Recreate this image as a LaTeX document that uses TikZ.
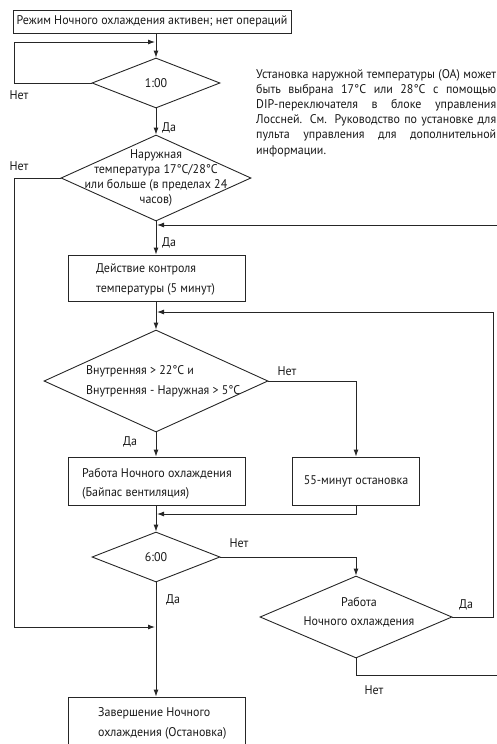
\documentclass[tikz,border=0pt]{standalone}
\usepackage{fontspec}
\setmainfont[FakeStretch=0.95]{PT Sans}
\usetikzlibrary{shapes.geometric,arrows.meta}
\newcommand{\lefttwo}[2]{\begin{tabular}{@{}l@{}}#1\\#2\end{tabular}}
\begin{document}
\begin{tikzpicture}[x=1pt,y=-1pt,
  every node/.style={font=\fontsize{12.6}{15.2}\selectfont, inner sep=0pt, text=black!90},
  ln/.style={line width=0.9pt, draw=black!85},
  arr/.style={ln, -{Latex[length=7pt,width=5pt]}},
  boxn/.style={draw=black!85, line width=0.9pt, rectangle},
  dia/.style={draw=black!85, line width=0.9pt, diamond, inner sep=0pt},
  wide/.style={font=\fontsize{12.6}{19.5}\selectfont},
  lt/.style={wide, anchor=west}]
\useasboundingbox (0,0) rectangle (497,744);

% nodes
\node[boxn, minimum width=278pt, minimum height=23pt] (top) at (152,21.5) {Режим Ночного охлаждения активен; нет операций};
\node[dia, minimum width=128pt, minimum height=50pt] (d1) at (156,83) {1:00};
\node[dia, minimum width=190pt, minimum height=86pt] (d2) at (156,178) {};
\node[align=center] (d2t) at (156,178) {Наружная\\температура 17°C/28°C\\или больше (в пределах 24\\часов)};
\node[boxn, minimum width=177pt, minimum height=46pt] (b2) at (156.5,278) {};
\node[lt] (b2t) at (96,278.5) {\lefttwo{Действие контроля}{температуры (5 минут)}};
\node[dia, minimum width=224pt, minimum height=102pt] (d3) at (156,381) {};
\node[lt] (d3t) at (86,380.5) {\lefttwo{Внутренняя > 22°C и}{Внутренняя - Наружная > 5°C}};
\node[boxn, minimum width=177pt, minimum height=48pt] (b3) at (156.5,481) {};
\node[lt] (b3t) at (82,483) {\lefttwo{Работа Ночного охлаждения}{(Байпас вентиляция)}};
\node[boxn, minimum width=127pt, minimum height=48pt] (b4) at (356,481) {55-минут остановка};
\node[dia, minimum width=128pt, minimum height=50pt] (d4) at (156,557) {6:00};
\node[dia, minimum width=192pt, minimum height=82pt] (d5) at (356,617) {};
\node[wide, align=center] (d5t) at (359,612) {Работа\\Ночного охлаждения};
\node[boxn, minimum width=177pt, minimum height=60pt] (b5) at (156.5,727) {};
\node[lt] (b5t) at (98,722.5) {\lefttwo{Завершение Ночного}{охлаждения (Остановка)}};

% note
\node[align=left, anchor=north west] (note) at (256,69) {%
\makebox[240pt][s]{Установка наружной температуры (ОА) может}\\
\makebox[240pt][s]{быть выбрана 17°C или 28°C с помощью}\\
\makebox[240pt][s]{DIP-переключателя в блоке управления}\\
\makebox[240pt][s]{Лоссней. См. Руководство по установке для}\\
\makebox[240pt][s]{пульта управления для дополнительной}\\
информации.};

% coordinates
\coordinate (l1) at (14,42);
\coordinate (m1) at (155,42);
\coordinate (l2) at (14,627);
\coordinate (m2) at (155,627);
\coordinate (r1) at (499,675);
\coordinate (m3) at (157,225);
\coordinate (r2) at (493,617);
\coordinate (m4) at (157,312);
\coordinate (r3) at (356,514);
\coordinate (m5) at (157,514);

% connectors
\draw[arr] (top.south -| d1.north) -- (d1.north);
\draw[arr] (d1.west) -- (d1.west -| l1) -- (l1) -- (m1);
\draw[arr] (d1.south) -- (d2.north);
\draw[arr] (d2.west) -- (d2.west -| l2) -- (l2) -- (m2);
\draw[arr] (d2.south) -- (b2.north -| d2.south);
\draw[arr] (b2.south -| d3.north) -- (d3.north);
\draw[arr] (d3.east) -- (d3.east -| b4.north) -- (b4.north);
\draw[arr] (d3.south) -- (b3.north -| d3.south);
\draw[arr] (b4.south) -- (r3) -- (m5);
\draw[arr] (b3.south -| d4.north) -- (d4.north);
\draw[arr] (d4.east) -- (d4.east -| d5.north) -- (d5.north);
\draw[arr] (d4.south) -- (b5.north -| d4.south);
\draw[arr] (d5.east) -- (r2) -- (r2 |- m4) -- (m4);
\draw[arr] (d5.south) -- (d5.south |- r1) -- (r1) -- (r1 |- m3) -- (m3);

% labels
\node (n1) at (19,95) {Нет};
\node (y1) at (169,128) {Да};
\node (n2) at (19,166) {Нет};
\node (y2) at (169,243) {Да};
\node (n3) at (287,371) {Нет};
\node (y3) at (130,442) {Да};
\node (n4) at (239,543) {Нет};
\node (y4) at (173,600) {Да};
\node (y5) at (466,605) {Да};
\node (n5) at (374,690) {Нет};
\end{tikzpicture}
\end{document}
